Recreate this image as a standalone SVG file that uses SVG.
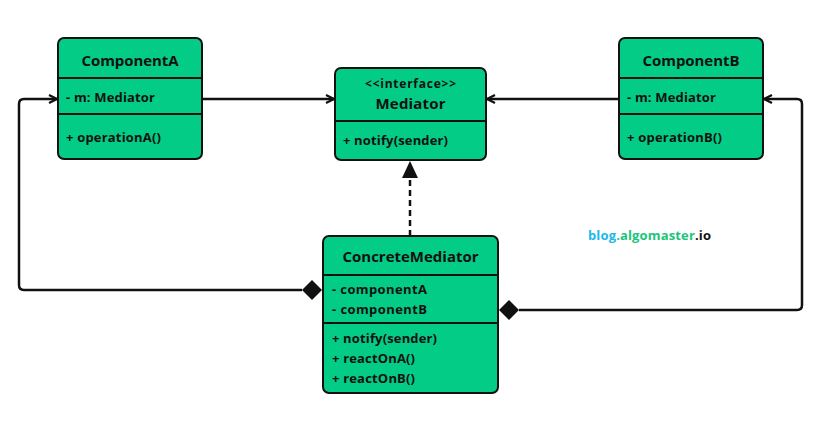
<svg xmlns="http://www.w3.org/2000/svg" width="819" height="429" viewBox="0 0 819 429">
<style>
.box{fill:#02cc86;stroke:#111;stroke-width:2}
.div{stroke:#111;stroke-width:1.8}
.t{font-family:"Open Sans",Lato,"Liberation Sans",sans-serif;font-weight:700;fill:#111}
.title{font-size:15px;text-anchor:middle}
.m{font-size:13px}
.ln{fill:none;stroke:#111;stroke-width:2.5}
</style>
<defs>
<marker id="arr" viewBox="0 0 10 10" refX="9" refY="5" markerWidth="10" markerHeight="10" markerUnits="userSpaceOnUse" orient="auto">
<path d="M1,1 L9,5 L1,9" fill="none" stroke="#111" stroke-width="2.2"/>
</marker>
</defs>
<rect width="819" height="429" fill="#fff"/>
<g id="connectors">
<line class="ln" x1="203" y1="99" x2="334" y2="99" marker-end="url(#arr)"/>
<line class="ln" x1="618" y1="99" x2="487" y2="99" marker-end="url(#arr)"/>
<path class="ln" d="M302,290 H24 Q19,290 19,285 V104 Q19,99 24,99 H57" marker-end="url(#arr)"/>
<path class="ln" d="M519,310 H797 Q802,310 802,305 V104 Q802,99 797,99 H764" marker-end="url(#arr)"/>
<polygon points="302,290 312,280 322,290 312,300" fill="#111"/>
<polygon points="499,310 509,300 519,310 509,320" fill="#111"/>
<line class="ln" x1="410" y1="236" x2="410" y2="177" stroke-dasharray="6,4"/>
<polygon points="410,161 402,178 418,178" fill="#111"/>
</g>
<g id="componentA">
<rect class="box" x="58" y="38" width="144" height="121" rx="6"/>
<line class="div" x1="58" y1="78" x2="202" y2="78"/>
<line class="div" x1="58" y1="114" x2="202" y2="114"/>
<text class="t title" x="130" y="65.5" textLength="97">ComponentA</text>
<text class="t m" x="66" y="102" textLength="89">- m: Mediator</text>
<text class="t m" x="66" y="142" textLength="95">+ operationA()</text>
</g>
<g id="mediator">
<rect class="box" x="335" y="68" width="151" height="92" rx="6"/>
<line class="div" x1="335" y1="121" x2="486" y2="121"/>
<text class="t" x="410.5" y="88" font-size="12" text-anchor="middle" textLength="91" font-weight="600">&lt;&lt;interface&gt;&gt;</text>
<text class="t title" x="410.5" y="109" textLength="70">Mediator</text>
<text class="t m" x="343" y="145" textLength="105">+ notify(sender)</text>
</g>
<g id="componentB">
<rect class="box" x="619" y="38" width="144" height="121" rx="6"/>
<line class="div" x1="619" y1="78" x2="763" y2="78"/>
<line class="div" x1="619" y1="114" x2="763" y2="114"/>
<text class="t title" x="691" y="65.5" textLength="97">ComponentB</text>
<text class="t m" x="627" y="102" textLength="89">- m: Mediator</text>
<text class="t m" x="627" y="142" textLength="95">+ operationB()</text>
</g>
<g id="concreteMediator">
<rect class="box" x="323" y="236" width="175" height="157" rx="6"/>
<line class="div" x1="323" y1="275" x2="498" y2="275"/>
<line class="div" x1="323" y1="323" x2="498" y2="323"/>
<text class="t title" x="410.5" y="261.5" textLength="136">ConcreteMediator</text>
<text class="t m" x="332" y="294" textLength="95">- componentA</text>
<text class="t m" x="332" y="314" textLength="95">- componentB</text>
<text class="t m" x="332" y="343" textLength="105">+ notify(sender)</text>
<text class="t m" x="332" y="363" textLength="83">+ reactOnA()</text>
<text class="t m" x="332" y="383" textLength="83">+ reactOnB()</text>
</g>
<text class="t" x="588" y="240" font-size="13" textLength="123"><tspan fill="#1db8e8">blog.</tspan><tspan fill="#1dc47a">algomaster</tspan><tspan fill="#111">.io</tspan></text>
</svg>
